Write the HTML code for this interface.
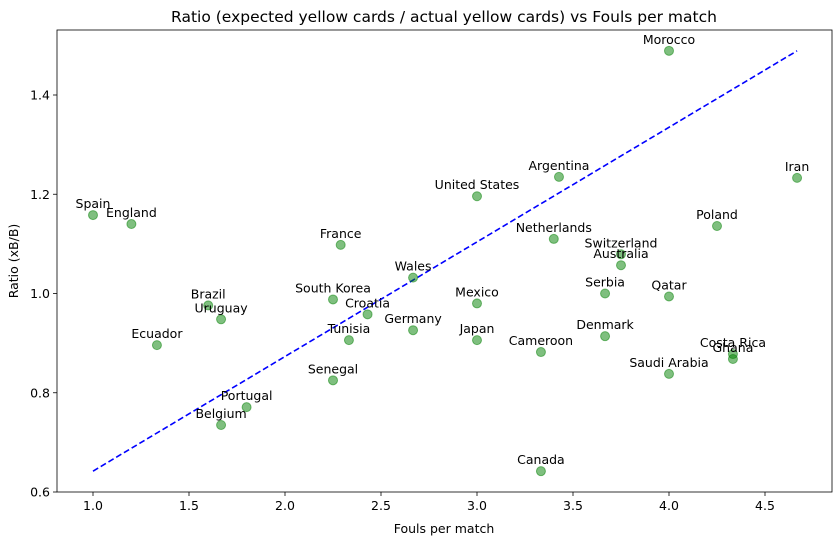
<!DOCTYPE html>
<html><head><meta charset="utf-8"><style>
body{margin:0;background:#fff}
svg text{font-family:"DejaVu Sans","Liberation Sans",sans-serif;fill:#000}
</style></head><body>
<svg id="chart" width="838" height="548" xmlns="http://www.w3.org/2000/svg"></svg>
<script>
const teams=["Morocco","Iran","Argentina","United States","Spain","England","Poland","Netherlands","France","Switzerland","Australia","Wales","Serbia","Qatar","South Korea","Mexico","Brazil","Uruguay","Croatia","Germany","Tunisia","Japan","Denmark","Ecuador","Cameroon","Costa Rica","Ghana","Saudi Arabia","Senegal","Portugal","Belgium","Canada"];
const fouls=[4.0,4.667,3.427,3.0,1.0,1.2,4.25,3.4,2.29,3.75,3.75,2.667,3.667,4.0,2.25,3.0,1.6,1.667,2.43,2.667,2.333,3.0,3.667,1.333,3.333,4.333,4.333,4.0,2.25,1.8,1.667,3.333];
const ratios=[1.489,1.233,1.235,1.196,1.158,1.14,1.136,1.110,1.098,1.079,1.057,1.032,1.0,0.994,0.988,0.980,0.976,0.948,0.958,0.926,0.906,0.906,0.914,0.896,0.882,0.878,0.868,0.838,0.825,0.771,0.735,0.642];
const xTicks=[1.0,1.5,2.0,2.5,3.0,3.5,4.0,4.5];
const yTicks=[0.6,0.8,1.0,1.2,1.4];

const NS="http://www.w3.org/2000/svg";
const svg=document.getElementById('chart');
const L=57,R=832,T=30,B=492;
const X=v=>93+(v-1)*192;
const Y=v=>492-(v-0.6)*496.25;
function mk(tag,attrs,txt){const e=document.createElementNS(NS,tag);for(const k in attrs)e.setAttribute(k,attrs[k]);if(txt!==undefined)e.textContent=txt;svg.appendChild(e);return e;}

let t=mk('text',{x:444,y:22,'text-anchor':'middle','font-size':15.5},'Ratio (expected yellow cards / actual yellow cards) vs Fouls per match');



xTicks.forEach(v=>{
  let l=mk('line',{x1:X(v),x2:X(v),y1:B,y2:B+4,stroke:'#000','stroke-width':0.8});
  
  
  let tx=mk('text',{x:X(v),y:B+18,'text-anchor':'middle','font-size':12.5},v.toFixed(1));
  
  
});
yTicks.forEach(v=>{
  let l=mk('line',{x1:L-4,x2:L,y1:Y(v),y2:Y(v),stroke:'#000','stroke-width':0.8});
  
  
  let tx=mk('text',{x:L-7,y:Y(v)+4.5,'text-anchor':'end','font-size':12.5},v.toFixed(1));
  
  
});
t=mk('text',{x:444,y:533,'text-anchor':'middle','font-size':12.5},'Fouls per match');


t=mk('text',{x:18,y:261,'text-anchor':'middle','font-size':12.5,transform:'rotate(-90 18 261)'},'Ratio (xB/B)');



const x0=Math.min(...fouls),x1=Math.max(...fouls),y0=Math.min(...ratios),y1=Math.max(...ratios);
let tl=mk('line',{x1:X(x0),y1:Y(y0),x2:X(x1),y2:Y(y1),stroke:'#0000ff','stroke-width':1.6,'stroke-dasharray':'6,3'});



teams.forEach((n,i)=>{
  let c=mk('circle',{cx:X(fouls[i]),cy:Y(ratios[i]),r:4.5,fill:'#008000','fill-opacity':0.5,stroke:'#008000','stroke-opacity':0.5});
  
  
  let lb=mk('text',{x:X(fouls[i]),y:Y(ratios[i])-7,'text-anchor':'middle','font-size':12.5},n);
  
  
});

let fr=mk('rect',{x:L,y:T,width:R-L,height:B-T,fill:'none',stroke:'#000','stroke-width':0.8});


</script>
</body></html>
